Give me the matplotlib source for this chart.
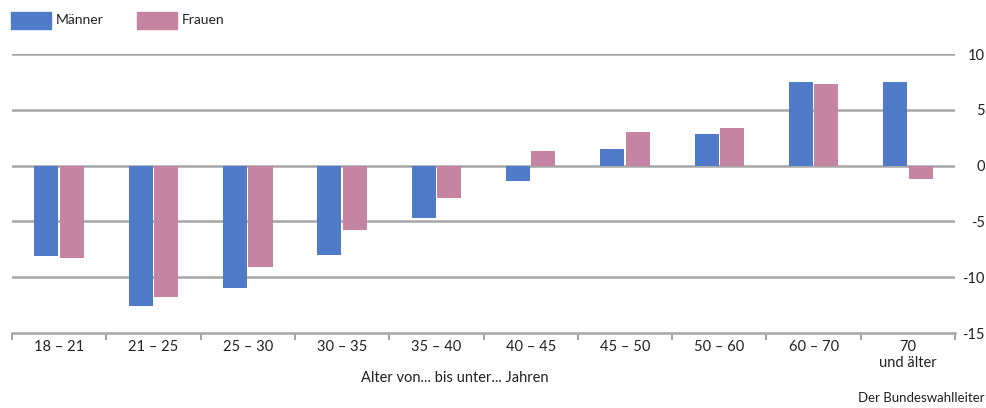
import numpy as np
import matplotlib.pyplot as plt

# Daten
kategorien = ["18 – 21", "21 – 25", "25 – 30", "30 – 35", "35 – 40",
              "40 – 45", "45 – 50", "50 – 60", "60 – 70", "70\nund älter"]
maenner = [-8.1, -12.6, -11.0, -8.0, -4.7, -1.4, 1.5, 2.8, 7.5, 7.5]
frauen = [-8.3, -11.8, -9.1, -5.8, -2.9, 1.3, 3.0, 3.4, 7.3, -1.2]
y_ticks = [10, 5, 0, -5, -10, -15]

farbe_m = "#4f7bc8"
farbe_f = "#c584a2"
grau = "#a6a6a6"
text_farbe = "#222222"

plt.rcParams['font.family'] = ['Lato', 'DejaVu Sans']

fig = plt.figure(figsize=(9.87, 4.08), dpi=100)
ax = fig.add_axes([0.0122, 0.1838, 0.9554, 0.6838])

x = np.arange(len(kategorien))
breite = 0.255
ax.bar(x - 0.135, maenner, breite, color=farbe_m, zorder=3)
ax.bar(x + 0.135, frauen, breite, color=farbe_f, zorder=3)

ax.set_xlim(-0.5, len(kategorien) - 0.5)
ax.set_ylim(-15, 10)

# y-Achse rechts, rechtsbündige Beschriftung
ax.yaxis.tick_right()
ax.set_yticks(y_ticks)
ax.set_yticklabels([str(v) for v in y_ticks])
for lbl in ax.get_yticklabels():
    lbl.set_horizontalalignment('right')
ax.tick_params(axis='y', length=0, pad=21.5, labelsize=10.5, labelcolor=text_farbe)
for v in y_ticks:
    if v != -15:
        ax.axhline(v, color=grau, lw=1.8, zorder=1)

# x-Achse: Ticks an den Kategoriegrenzen
ax.set_xticks(np.arange(-0.5, len(kategorien), 1.0))
ax.set_xticklabels([])
ax.set_xticks(x, minor=True)
ax.set_xticklabels(kategorien, minor=True, fontsize=10.5, color=text_farbe,
                   linespacing=1.15)
ax.tick_params(axis='x', which='major', length=5, width=1.5, color=grau)
ax.tick_params(axis='x', which='minor', length=0, pad=5)

for s in ["top", "left", "right"]:
    ax.spines[s].set_visible(False)
ax.spines["bottom"].set_color(grau)
ax.spines["bottom"].set_linewidth(1.8)

fig.text(455 / 987, 1 - 378 / 408, "Alter von... bis unter... Jahren",
         ha='center', va='center', fontsize=10.5, color=text_farbe)
fig.text(985 / 987, 1 - 398 / 408, "Der Bundeswahlleiter",
         ha='right', va='center', fontsize=9.5, color=text_farbe)

# Legende oben links
for x0, farbe, name in [(11, farbe_m, "Männer"), (137, farbe_f, "Frauen")]:
    fig.patches.append(plt.Rectangle((x0 / 987, 1 - 29 / 408), 40 / 987, 17 / 408,
                                     transform=fig.transFigure, color=farbe))
    fig.text((x0 + 45) / 987, 1 - 20 / 408, name, ha='left', va='center',
             fontsize=10, color=text_farbe)

fig.savefig("out.png", dpi=100)
